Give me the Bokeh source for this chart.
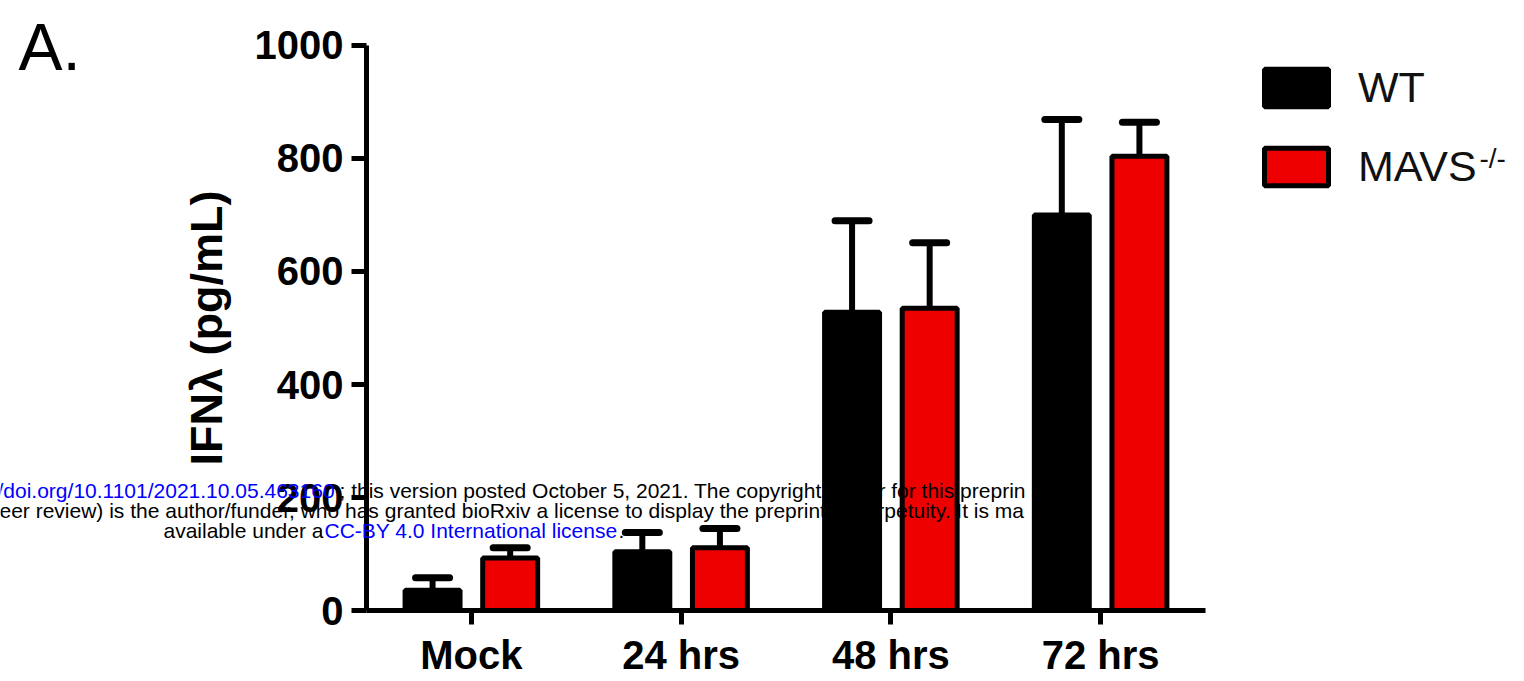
from bokeh.plotting import figure
from bokeh.models import (ColumnDataSource, Range1d, Whisker, TeeHead,
                          Label, Legend, LegendItem, FixedTicker)
from bokeh.embed import file_html
from bokeh.resources import INLINE

# ---------------- data ----------------
categories = ["Mock", "24 hrs", "48 hrs", "72 hrs"]
wt_mean = [36, 104, 528, 700]
wt_err = [22, 34, 162, 169]
mavs_mean = [93, 111, 535, 804]
mavs_err = [18, 34, 116, 60]
y_ticks = [0, 200, 400, 600, 800, 1000]
series_labels = ["WT", "MAVS"]
y_label = "IFNλ (pg/mL)"

FONT = "Liberation Sans"
OFF = 0.185      # dodge of each series from the category centre
BW = 0.262       # bar width (category units)

cat_pos = list(range(1, len(categories) + 1))
src = ColumnDataSource(dict(
    x_wt=[c - OFF for c in cat_pos],
    x_mavs=[c + OFF for c in cat_pos],
    wt=wt_mean,
    wt_up=[m + e for m, e in zip(wt_mean, wt_err)],
    mavs=mavs_mean,
    mavs_up=[m + e for m, e in zip(mavs_mean, mavs_err)],
))

W, H = 1520, 675
# frame covers the whole canvas; axes are pinned with fixed_location
p = figure(x_range=Range1d(-1.2449, 6.0018), y_range=Range1d(-115.0, 1079.6),
           width=W, height=H, output_backend="svg", toolbar_location=None,
           min_border_left=0, min_border_right=0, min_border_top=0, min_border_bottom=0)
p.outline_line_color = None
p.xgrid.visible = False
p.ygrid.visible = False
p.background_fill_color = "white"
p.border_fill_color = "white"

# y axis
ya = p.yaxis[0]
ya.fixed_location = 0.5
ya.bounds = (0, 1000)
ya.ticker = FixedTicker(ticks=y_ticks)
ya.minor_tick_line_color = None
ya.axis_line_width = 5
ya.major_tick_line_width = 5
ya.major_tick_out = 15
ya.major_tick_in = 0
ya.major_label_text_font = FONT
ya.major_label_text_font_size = "40px"
ya.major_label_text_font_style = "bold"
ya.major_label_text_color = "black"
ya.major_label_standoff = 8
ya.axis_label = y_label
ya.axis_label_text_font = FONT
ya.axis_label_text_font_size = "45px"
ya.axis_label_text_font_style = "bold"
ya.axis_label_text_color = "black"
ya.axis_label_standoff = 20

# x axis
xa = p.xaxis[0]
xa.fixed_location = 0
xa.bounds = (0.5, len(categories) + 0.5)
xa.ticker = FixedTicker(ticks=cat_pos)
xa.major_label_overrides = {c: name for c, name in zip(cat_pos, categories)}
xa.axis_line_width = 5
xa.major_tick_line_width = 5
xa.major_tick_out = 14
xa.major_tick_in = 0
xa.minor_tick_line_color = None
xa.major_label_text_font = FONT
xa.major_label_text_font_size = "40px"
xa.major_label_text_font_style = "bold"
xa.major_label_text_color = "black"
xa.major_label_standoff = 8

wt_r = p.vbar(x="x_wt", top="wt", width=BW, source=src,
              fill_color="black", line_color="black", line_width=5)
mavs_r = p.vbar(x="x_mavs", top="mavs", width=BW, source=src,
                fill_color="#EE0000", line_color="black", line_width=5)

for base, lo, up in [("x_wt", "wt", "wt_up"), ("x_mavs", "mavs", "mavs_up")]:
    w = Whisker(base=base, lower=lo, upper=up, source=src,
                lower_head=None,
                upper_head=TeeHead(size=34, line_width=7, line_color="black", line_cap="round"),
                line_width=6, line_color="black")
    p.add_layout(w)

legend = Legend(items=[LegendItem(label=series_labels[0], renderers=[wt_r]),
                       LegendItem(label=series_labels[1], renderers=[mavs_r])],
                location=(1256, 484), glyph_width=80, glyph_height=47,
                label_text_font=FONT, label_text_font_size="43px", label_text_color="#111111",
                label_standoff=22, spacing=30, padding=0, margin=0,
                border_line_color=None, background_fill_alpha=0)
p.add_layout(legend)

# superscript of MAVS
p.add_layout(Label(x=1479, y=533, x_units="screen", y_units="screen", text="-/-",
                   text_font=FONT, text_font_size="28px", text_color="#111111",
                   text_baseline="top"))

# panel letter
p.add_layout(Label(x=18, y=629, x_units="screen", y_units="screen", text="A.",
                   text_font=FONT, text_font_size="66px", text_color="black",
                   text_baseline="alphabetic"))

# bioRxiv watermark
BLUE = "#0000FF"
wm = [
    (-3, 185, "/doi.org/10.1101/2021.10.05.463160", BLUE),
    (339, 185, "; this version posted October 5, 2021. The copyright holder for this preprin", "black"),
    (-1, 165, "eer review) is the author/funder, who has granted bioRxiv a license to display the preprint in perpetuity. It is ma", "black"),
    (163, 145, "available under a", "black"),
    (324, 145, "CC-BY 4.0 International license", BLUE),
    (618, 145, ".", "black"),
]
for x, y, t, c in wm:
    p.add_layout(Label(x=x, y=y, x_units="screen", y_units="screen", text=t,
                       text_font=FONT, text_font_size="21px", text_color=c,
                       text_baseline="alphabetic"))

open("out.html", "w").write(file_html(p, INLINE))
